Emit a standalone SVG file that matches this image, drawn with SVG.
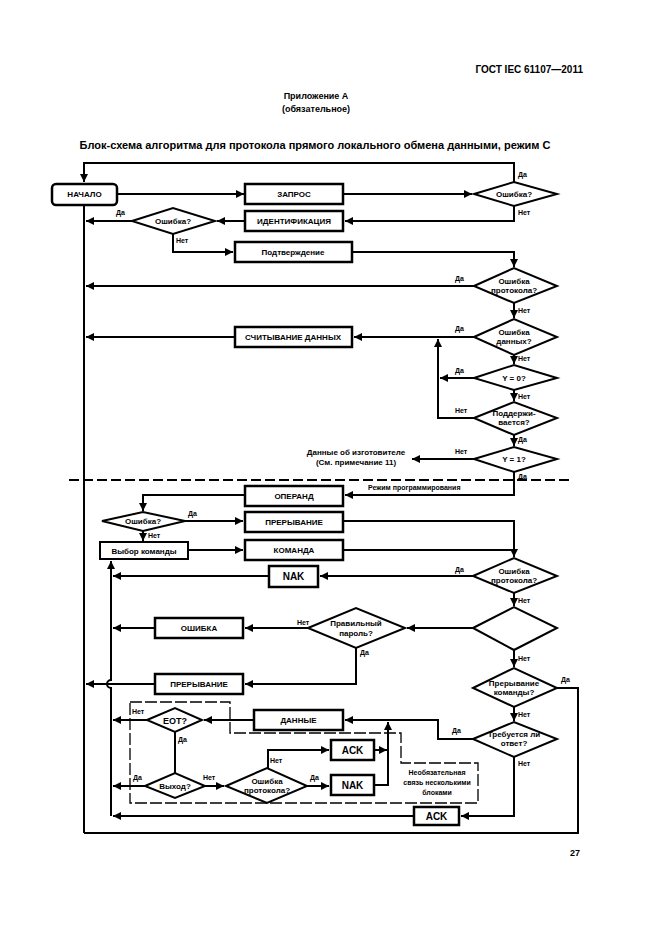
<svg xmlns="http://www.w3.org/2000/svg" width="661" height="935" viewBox="0 0 661 935">
<defs>
<marker id="a" viewBox="0 0 10 10" refX="10" refY="5" markerWidth="4" markerHeight="4" orient="auto"><path d="M0,0L10,5L0,10z" fill="#000"/></marker>
<style>
.b{fill:#fff;stroke:#000;stroke-width:2.5}
.d{fill:#fff;stroke:#000;stroke-width:2}
.l{fill:none;stroke:#000;stroke-width:2}
.t{font-family:"Liberation Sans",Arial,sans-serif;font-size:8px;font-weight:bold;text-anchor:middle}
.s{font-family:"Liberation Sans",Arial,sans-serif;font-size:7px;font-weight:bold}
.h{font-family:"Liberation Sans",Arial,sans-serif;font-size:10px;font-weight:bold;text-anchor:middle}
</style>
</defs>
<rect width="661" height="935" fill="#fff"/>
<text class="h" x="583" y="73" style="text-anchor:end">ГОСТ IEC 61107—2011</text>
<text class="t" x="316" y="99" style="font-size:9px">Приложение А</text>
<text class="t" x="316" y="112" style="font-size:9px">(обязательное)</text>
<text class="h" x="315" y="149" style="font-size:11px">Блок-схема алгоритма для протокола прямого локального обмена данными, режим С</text>
<text class="t" x="575" y="856" style="font-size:9px">27</text>

<g id="connectors">
<path class="l" d="M84,833V205"/>
<path class="l" d="M514,182V163H84V182" marker-end="url(#a)"/>
<path class="l" d="M117,194H244" marker-end="url(#a)"/>
<path class="l" d="M343,194H472" marker-end="url(#a)"/>
<path class="l" d="M514,206V221H345" marker-end="url(#a)"/>
<path class="l" d="M245,221H217" marker-end="url(#a)"/>
<path class="l" d="M132,221H86" marker-end="url(#a)"/>
<path class="l" d="M173,233V252H233" marker-end="url(#a)"/>
<path class="l" d="M352,252H514V267" marker-end="url(#a)"/>
<path class="l" d="M474,286H86" marker-end="url(#a)"/>
<path class="l" d="M514,303V318" marker-end="url(#a)"/>
<path class="l" d="M474,337H354" marker-end="url(#a)"/>
<path class="l" d="M235,337H86" marker-end="url(#a)"/>
<path class="l" d="M514,355V364" marker-end="url(#a)"/>
<path class="l" d="M474,378H440" marker-end="url(#a)"/>
<path class="l" d="M514,390V401" marker-end="url(#a)"/>
<path class="l" d="M474,418H438V339" marker-end="url(#a)"/>
<path class="l" d="M514,435V446" marker-end="url(#a)"/>
<path class="l" d="M474,459H412" marker-end="url(#a)"/>
<path class="l" stroke-dasharray="10,4" d="M69,480H569"/>
<path class="l" d="M514,472V495H345" marker-end="url(#a)"/>
<path class="l" d="M245,495H143V511" marker-end="url(#a)"/>
<path class="l" d="M185,521H243" marker-end="url(#a)"/>
<path class="l" d="M143,531V541" marker-end="url(#a)"/>
<path class="l" d="M188,550H243" marker-end="url(#a)"/>
<path class="l" d="M343,521H514V557" marker-end="url(#a)"/>
<path class="l" d="M343,550H514"/>
<path class="l" d="M474,576H320" marker-end="url(#a)"/>
<path class="l" d="M269,576H113" marker-end="url(#a)"/>
<path class="l" d="M111,816V688A4,4 0 0 1 111,680V561" marker-end="url(#a)"/>
<path class="l" d="M514,593V606" marker-end="url(#a)"/>
<path class="l" d="M473,628H407" marker-end="url(#a)"/>
<path class="l" d="M308,628H245" marker-end="url(#a)"/>
<path class="l" d="M155,628H113" marker-end="url(#a)"/>
<path class="l" d="M356,648V684H245" marker-end="url(#a)"/>
<path class="l" d="M155,684H86" marker-end="url(#a)"/>
<path class="l" d="M514,650V667" marker-end="url(#a)"/>
<path class="l" d="M557,688H578V833H84"/>
<path class="l" d="M514,707V721" marker-end="url(#a)"/>
<path class="l" d="M473,739H438V720H345" marker-end="url(#a)"/>
<path class="l" d="M254,720H204" marker-end="url(#a)"/>
<path class="l" d="M147,720H113" marker-end="url(#a)"/>
<path class="l" d="M175,732V773"/>
<path class="l" d="M145,786H113" marker-end="url(#a)"/>
<path class="l" d="M205,786H224" marker-end="url(#a)"/>
<path class="l" d="M268,769V750H329" marker-end="url(#a)"/>
<path class="l" d="M307,786H329" marker-end="url(#a)"/>
<path class="l" d="M374,750H387" marker-end="url(#a)"/>
<path class="l" d="M374,785H388V722" marker-end="url(#a)"/>
<path class="l" d="M514,757V816H461" marker-end="url(#a)"/>
<path class="l" d="M414,816H113" marker-end="url(#a)"/>
<path fill="none" stroke="#000" stroke-width="1.3" stroke-dasharray="12,3" d="M130,702H230V733H401V763H478V803H130Z"/>
</g>

<g id="n-start"><rect class="b" x="52" y="184" width="65" height="21" rx="4"/><text class="t" x="84.5" y="197">НАЧАЛО</text></g>
<g id="n-zapros"><rect class="b" x="245" y="184" width="98" height="20"/><text class="t" x="294" y="197">ЗАПРОС</text></g>
<g id="n-err1"><path class="d" d="M474,194L514,182L557,194L514,206Z"/><text class="t" x="514" y="197">Ошибка?</text></g>
<g id="n-ident"><rect class="b" x="245" y="211" width="98" height="20"/><text class="t" x="294" y="224">ИДЕНТИФИКАЦИЯ</text></g>
<g id="n-err2"><path class="d" d="M132,221L173,208L215,221L173,234Z"/><text class="t" x="173" y="224">Ошибка?</text></g>
<g id="n-confirm"><rect class="b" x="235" y="242" width="117" height="20"/><text class="t" x="293" y="255">Подтверждение</text></g>
<g id="n-perr1"><path class="d" d="M474,286L514,268L557,286L514,303Z"/><text class="t" x="514" y="284">Ошибка</text><text class="t" x="514" y="293">протокола?</text></g>
<g id="n-derr"><path class="d" d="M474,337L514,319L557,337L514,355Z"/><text class="t" x="514" y="335">Ошибка</text><text class="t" x="514" y="344">данных?</text></g>
<g id="n-read"><rect class="b" x="235" y="327" width="117" height="20"/><text class="t" x="293" y="340">СЧИТЫВАНИЕ ДАННЫХ</text></g>
<g id="n-y0"><path class="d" d="M474,378L514,365L557,378L514,390Z"/><text class="t" x="514" y="381">Y = 0?</text></g>
<g id="n-supp"><path class="d" d="M474,418L514,402L557,418L514,435Z"/><text class="t" x="514" y="416">Поддержи-</text><text class="t" x="514" y="425">вается?</text></g>
<g id="n-y1"><path class="d" d="M474,459L514,447L557,459L514,472Z"/><text class="t" x="514" y="462">Y = 1?</text></g>
<g id="n-maker"><text class="t" x="356" y="455">Данные об изготовителе</text><text class="t" x="356" y="465">(См. примечание 11)</text></g>
<g id="n-operand"><rect class="b" x="245" y="486" width="98" height="20"/><text class="t" x="294" y="499">ОПЕРАНД</text></g>
<g id="n-err3"><path class="d" d="M102,521L143,512L185,521L143,531Z"/><text class="t" x="143" y="524">Ошибка?</text></g>
<g id="n-int1"><rect class="b" x="245" y="512" width="98" height="20"/><text class="t" x="294" y="525">ПРЕРЫВАНИЕ</text></g>
<g id="n-select"><rect class="d" x="100" y="542" width="88" height="17"/><text class="t" x="144" y="553.5">Выбор команды</text></g>
<g id="n-cmd"><rect class="b" x="245" y="540" width="98" height="20"/><text class="t" x="294" y="553">КОМАНДА</text></g>
<g id="n-perr2"><path class="d" d="M473,576L514,558L557,576L514,593Z"/><text class="t" x="514" y="574">Ошибка</text><text class="t" x="514" y="583">протокола?</text></g>
<g id="n-nak1"><rect class="b" x="269" y="566" width="49" height="21"/><text class="t" x="293.5" y="580" style="font-size:10px">NAK</text></g>
<g id="n-empty"><path class="d" d="M473,628L514,607L557,628L514,650Z"/></g>
<g id="n-pass"><path class="d" d="M308,628L356,608L405,628L356,648Z"/><text class="t" x="356" y="626">Правильный</text><text class="t" x="356" y="636">пароль?</text></g>
<g id="n-error"><rect class="b" x="155" y="618" width="88" height="20"/><text class="t" x="199" y="631">ОШИБКА</text></g>
<g id="n-int2"><rect class="b" x="155" y="674" width="88" height="20"/><text class="t" x="199" y="687">ПРЕРЫВАНИЕ</text></g>
<g id="n-cmdint"><path class="d" d="M473,688L514,668L557,688L514,707Z"/><text class="t" x="514" y="686">Прерывание</text><text class="t" x="514" y="695">команды?</text></g>
<g id="n-resp"><path class="d" d="M473,739L514,722L557,739L514,757Z"/><text class="t" x="514" y="737">Требуется ли</text><text class="t" x="514" y="746">ответ?</text></g>
<g id="n-data"><rect class="b" x="254" y="710" width="89" height="20"/><text class="t" x="298.5" y="723">ДАННЫЕ</text></g>
<g id="n-eot"><path class="d" d="M147,720L175,708L202,720L175,732Z"/><text class="t" x="175" y="723.5" style="font-size:9px">EOT?</text></g>
<g id="n-exit"><path class="d" d="M145,786L175,773L205,786L175,798Z"/><text class="t" x="175" y="789">Выход?</text></g>
<g id="n-perr3"><path class="d" d="M226,786L267,768L307,786L267,803Z"/><text class="t" x="267" y="784">Ошибка</text><text class="t" x="267" y="793">протокола?</text></g>
<g id="n-ack1"><rect class="b" x="331" y="740" width="43" height="20"/><text class="t" x="352.5" y="754" style="font-size:10px">ACK</text></g>
<g id="n-nak2"><rect class="b" x="331" y="775" width="43" height="20"/><text class="t" x="352.5" y="789" style="font-size:10px">NAK</text></g>
<g id="n-note"><text class="s" x="437" y="775" text-anchor="middle">Необязательная</text><text class="s" x="437" y="785" text-anchor="middle">связь несколькими</text><text class="s" x="437" y="795" text-anchor="middle">блоками</text></g>
<g id="n-ack2"><rect class="b" x="414" y="807" width="45" height="18"/><text class="t" x="436.5" y="820" style="font-size:10px">ACK</text></g>

<g id="labels">
<text class="s" x="518" y="177">Да</text><text class="s" x="518" y="215">Нет</text>
<text class="s" x="116" y="215">Да</text><text class="s" x="176" y="243">Нет</text>
<text class="s" x="455" y="281">Да</text><text class="s" x="518" y="313">Нет</text>
<text class="s" x="455" y="331">Да</text><text class="s" x="518" y="361">Нет</text>
<text class="s" x="455" y="373">Да</text><text class="s" x="518" y="399">Нет</text>
<text class="s" x="455" y="413">Нет</text><text class="s" x="518" y="442">Да</text>
<text class="s" x="455" y="454">Нет</text><text class="s" x="518" y="479">Да</text>
<text class="s" x="368" y="490">Режим программирования</text>
<text class="s" x="188" y="516">Да</text><text class="s" x="148" y="538">Нет</text>
<text class="s" x="455" y="572">Да</text><text class="s" x="518" y="603">Нет</text>
<text class="s" x="297" y="625">Нет</text><text class="s" x="360" y="655">Да</text>
<text class="s" x="518" y="661">Нет</text><text class="s" x="561" y="682">Да</text>
<text class="s" x="518" y="717">Нет</text><text class="s" x="452" y="733">Да</text>
<text class="s" x="518" y="766">Нет</text>
<text class="s" x="132" y="714">Нет</text><text class="s" x="178" y="742">Да</text>
<text class="s" x="133" y="780">Да</text><text class="s" x="203" y="780">Нет</text>
<text class="s" x="270" y="763">Нет</text><text class="s" x="310" y="780">Да</text>
</g>
</svg>
